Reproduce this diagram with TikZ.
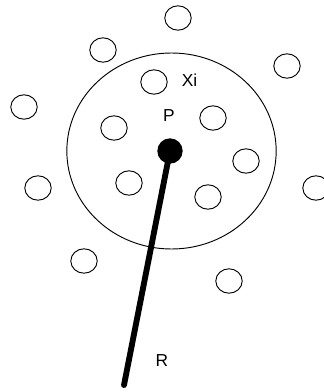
\documentclass[tikz,border=0pt]{standalone}
\usepackage{fontspec}
\setmainfont{Liberation Sans}
\usetikzlibrary{shapes.geometric}
\begin{document}
\begin{tikzpicture}[x=0.75pt, y=-0.75pt,
        pt/.style={draw, line width=0.7pt, ellipse, inner sep=0pt, minimum width=19.8pt, minimum height=18.3pt},
        lbl/.style={font=\fontsize{13}{15}\selectfont, inner sep=0pt}]
        \useasboundingbox (0,0) rectangle (324,392);
        % ── neighbourhood ────────────────────────────────────
        \node[draw, line width=0.7pt, ellipse, inner sep=0pt, minimum width=157pt, minimum height=147pt] (hood) at (171.5,151) {};
        % scattered points
        \foreach \x/\y/\n in {178/18/1, 103/50/2, 287/66/3, 154/82/4, 24/107/5,
                              114/128/6, 213/118/7, 246/161/8, 38/188/9, 129/183/10,
                              208/197/11, 316/188/12, 84/261/13, 229/281/14} {
            \node[pt] (x\n) at (\x,\y) {};
        }
        % point P and its rod
        \node[circle, fill=black, inner sep=0pt, minimum size=19pt] (p) at (170,151) {};
        \coordinate (rEnd) at (124,385);
        \draw[line width=4.4pt, line cap=round] (p.center) -- (rEnd);
        % labels
        \node[lbl] (xiLbl) at (189.5,80.5) {Xi};
        \node[lbl] (pLbl) at (169,116) {P};
        \node[lbl] (rLbl) at (162,361) {R};
\end{tikzpicture}
\end{document}
